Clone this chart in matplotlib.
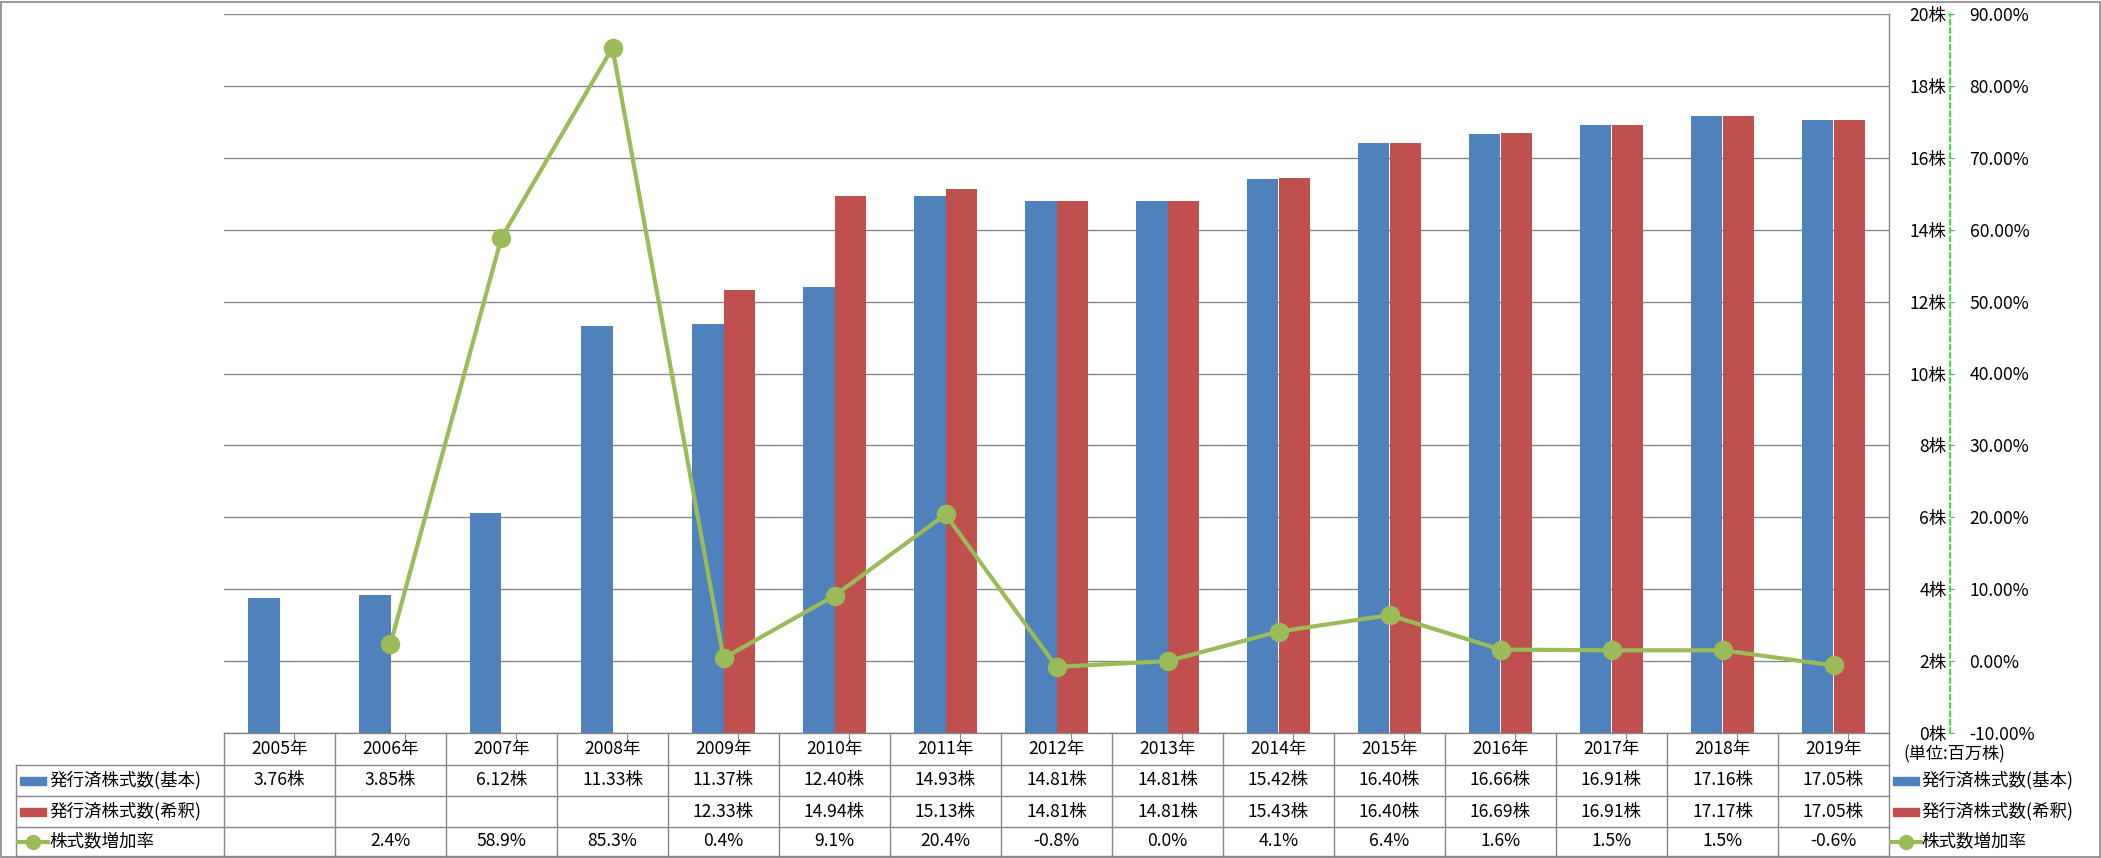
import matplotlib
matplotlib.use("Agg")
import matplotlib.pyplot as plt
import matplotlib.transforms as mtrans
from matplotlib.lines import Line2D
from matplotlib.patches import Rectangle
import numpy as np

plt.rcParams['font.family'] = ['Noto Sans CJK JP', 'DejaVu Sans']

# データ (単位: 百万株)
years = ['2005年', '2006年', '2007年', '2008年', '2009年', '2010年', '2011年', '2012年',
         '2013年', '2014年', '2015年', '2016年', '2017年', '2018年', '2019年']
basic = [3.76, 3.85, 6.12, 11.33, 11.37, 12.40, 14.93, 14.81, 14.81, 15.42, 16.40, 16.66, 16.91, 17.16, 17.05]
diluted = [None, None, None, None, 12.33, 14.94, 15.13, 14.81, 14.81, 15.43, 16.40, 16.69, 16.91, 17.17, 17.05]
growth = [None, 2.4, 58.9, 85.3, 0.4, 9.1, 20.4, -0.8, 0.0, 4.1, 6.4, 1.6, 1.5, 1.5, -0.6]
names = ['発行済株式数(基本)', '発行済株式数(希釈)', '株式数増加率']

BLUE = '#4F81BD'
RED = '#C0504D'
GREEN = '#9BBB59'
GRID = '#868686'
AXGREEN = '#14E014'
FS = 12.6

W, H = 2101, 858
fig = plt.figure(figsize=(W / 100, H / 100), dpi=100)

def fx(px):
    return px / W

def fy(py):
    return 1 - py / H

# プロット領域
x0, x1, y0, y1 = 224, 1889, 14, 733
ax = fig.add_axes([fx(x0), fy(y1), fx(x1) - fx(x0), fy(y0) - fy(y1)])
n = len(years)
x = np.arange(n)
bw = 0.28

b = [v if v is not None else np.nan for v in basic]
d = [v if v is not None else np.nan for v in diluted]
ax.bar(x - bw / 2, b, bw, color=BLUE, zorder=2)
ax.bar(x + bw / 2, d, bw, color=RED, zorder=2)

ax.set_xlim(-0.5, n - 0.5)
ax.set_ylim(0, 20)
ax.grid(axis='y', color=GRID, lw=1, zorder=0)
ax.set_xticks(x + 0.13)
ax.set_xticklabels([])
ax.tick_params(axis='x', length=4, color=GRID, direction='out')
for s in ['top', 'left']:
    ax.spines[s].set_visible(False)
for s in ['right', 'bottom']:
    ax.spines[s].set_color(GRID)
    ax.spines[s].set_linewidth(1)

# 増加率 (第2軸)
ax2 = ax.twinx()
g = [v if v is not None else np.nan for v in growth]
ax2.plot(x, g, color=GREEN, lw=3, marker='o', ms=13, zorder=3)
ax2.set_ylim(-10, 90)
ax2.set_yticks(np.arange(-10, 91, 10))
ax2.set_yticklabels(['%.2f%%' % v for v in range(-10, 91, 10)])
ax2.get_yticklabels()[0].set_color('red')
ax2.spines['right'].set_position(('outward', 44))
ax2.spines['right'].set_color(AXGREEN)
ax2.spines['right'].set_linestyle((0, (3, 2)))
ax2.spines['right'].set_linewidth(1.2)
for s in ['top', 'left', 'bottom']:
    ax2.spines[s].set_visible(False)
ax2.tick_params(axis='y', length=3, color=AXGREEN, pad=11, labelsize=FS)

# 主軸のラベルは右側 (twinx の後で設定)
ax.yaxis.tick_right()
ax.set_yticks(np.arange(0, 21, 2))
ax.set_yticklabels(['%d株' % v for v in range(0, 21, 2)])
ax.tick_params(axis='y', length=0, pad=41.5, labelsize=FS)
plt.setp(ax.get_yticklabels(), ha='right')

# データテーブル
tr = mtrans.blended_transform_factory(ax.transData, fig.transFigure)
rows = [733, 765, 796, 827, 856]
for i in range(n + 1):
    fig.add_artist(Line2D([i - 0.5, i - 0.5], [fy(rows[0]), fy(rows[-1])], transform=tr, color=GRID, lw=1))
for r in rows[1:]:
    fig.add_artist(Line2D([fx(16), fx(x1)], [fy(r), fy(r)], color=GRID, lw=1))
fig.add_artist(Line2D([fx(16), fx(16)], [fy(rows[1]), fy(rows[-1])], color=GRID, lw=1))

cy = [(rows[k] + rows[k + 1]) / 2 for k in range(4)]
for i in range(n):
    ax.text(i, fy(cy[0]), years[i], transform=tr, ha='center', va='center', fontsize=FS)
    if basic[i] is not None:
        ax.text(i, fy(cy[1]), '%.2f株' % basic[i], transform=tr, ha='center', va='center', fontsize=FS)
    if diluted[i] is not None:
        ax.text(i, fy(cy[2]), '%.2f株' % diluted[i], transform=tr, ha='center', va='center', fontsize=FS)
    if growth[i] is not None:
        ax.text(i, fy(cy[3]), '%.1f%%' % growth[i], transform=tr, ha='center', va='center', fontsize=FS)

def key(xl, k):
    yc = cy[k + 1]
    if k < 2:
        fig.add_artist(Rectangle((fx(xl), fy(yc + 4)), fx(26), 8 / H, color=[BLUE, RED][k]))
    else:
        fig.add_artist(Line2D([fx(xl - 2), fx(xl + 28)], [fy(yc), fy(yc)], color=GREEN, lw=3))
        fig.add_artist(Line2D([fx(xl + 13)], [fy(yc)], color=GREEN, marker='o', ms=10))

for k in range(3):
    key(20, k)
    fig.text(fx(49), fy(cy[k + 1]), names[k], ha='left', va='center', fontsize=FS)
    key(1893, k)
    fig.text(fx(1921), fy(cy[k + 1]), names[k], ha='left', va='center', fontsize=FS)

fig.text(fx(1903), fy(754), '(単位:百万株)', ha='left', va='center', fontsize=12.3)

# 外枠
fig.add_artist(Rectangle((0.0005, 0.001), 0.999, 0.997, fill=False, edgecolor=GRID, lw=1.2,
                         transform=fig.transFigure))

fig.savefig('out.png', dpi=100)
